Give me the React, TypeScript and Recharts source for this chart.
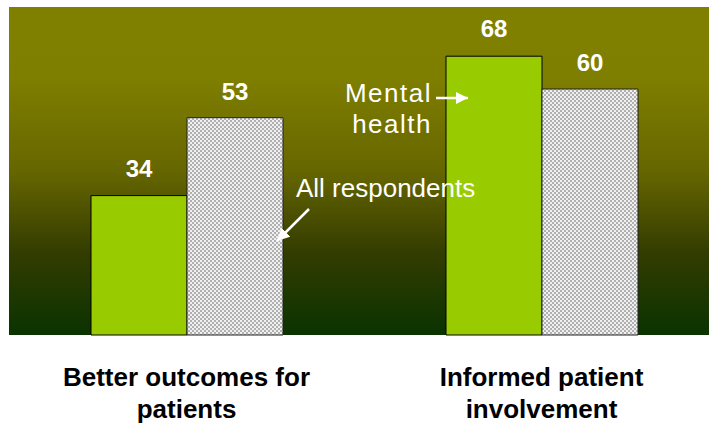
import React from "react";
import { BarChart, Bar, XAxis, YAxis, CartesianGrid, LabelList } from "recharts";

const categories = ["Better outcomes for patients", "Informed patient involvement"];
const tickLines = [
  ["Better outcomes for", "patients"],
  ["Informed patient", "involvement"],
];
const mentalHealth = [34, 68];
const allRespondents = [53, 60];

const data = categories.map((name, i) => ({
  name,
  mental: mentalHealth[i],
  all: allRespondents[i],
}));

const FONT = "'Liberation Sans', Arial, sans-serif";

const CategoryTick = (props: any) => {
  const { x, y, payload } = props;
  const idx = categories.indexOf(payload.value);
  const lines = idx >= 0 ? tickLines[idx] : [payload.value];
  return (
    <g>
      {lines.map((line, i) => (
        <text
          key={i}
          x={x}
          y={y + 43 + i * 32}
          textAnchor="middle"
          fontFamily={FONT}
          fontWeight="bold"
          fontSize={26}
          fill="#000"
        >
          {line}
        </text>
      ))}
    </g>
  );
};

const App = () => {
  return (
    <div
      style={{
        position: "absolute",
        left: 0,
        top: 0,
        width: 709,
        height: 424,
        overflow: "hidden",
        background: "#fff",
      }}
    >
      <svg width={0} height={0} style={{ position: "absolute" }}>
        <defs>
          <linearGradient id="bgGrad" x1="0" y1="0" x2="0" y2="1">
            <stop offset="0" stopColor="#808000" />
            <stop offset="0.22" stopColor="#7e7e00" />
            <stop offset="0.5" stopColor="#666600" />
            <stop offset="0.75" stopColor="#333c00" />
            <stop offset="1" stopColor="#0a3300" />
          </linearGradient>
          <pattern id="checker" patternUnits="userSpaceOnUse" width={4} height={4}>
            <rect x={0} y={0} width={4} height={4} fill="#b0b0b0" />
            <rect x={0} y={0} width={2} height={2} fill="#f0f0f0" />
            <rect x={2} y={2} width={2} height={2} fill="#f0f0f0" />
          </pattern>
          <marker
            id="arrowHead"
            viewBox="0 0 10 10"
            refX={10}
            refY={5}
            markerWidth={5}
            markerHeight={5}
            markerUnits="strokeWidth"
            orient="auto"
          >
            <path d="M0,0 L10,5 L0,10 z" fill="#fff" />
          </marker>
        </defs>
      </svg>
      <BarChart
        width={720}
        height={424}
        data={data}
        margin={{ top: 7, right: 1, left: 9, bottom: 0 }}
        barSize={96}
        barGap={0}
      >
        <CartesianGrid horizontal={false} vertical={false} fill="url(#bgGrad)" stroke="none" />
        <XAxis
          dataKey="name"
          axisLine={false}
          tickLine={false}
          interval={0}
          height={89}
          tick={<CategoryTick />}
        />
        <YAxis hide domain={[0, 80]} />
        <Bar dataKey="mental" fill="#99cc00" stroke="#000" strokeWidth={1} isAnimationActive={false}>
          <LabelList
            dataKey="mental"
            position="top"
            offset={19}
            fill="#fff"
            fontFamily={FONT}
            fontWeight="bold"
            fontSize={24}
          />
        </Bar>
        <Bar dataKey="all" fill="url(#checker)" stroke="#222" strokeWidth={1} isAnimationActive={false}>
          <LabelList
            dataKey="all"
            position="top"
            offset={18}
            fill="#fff"
            fontFamily={FONT}
            fontWeight="bold"
            fontSize={24}
          />
        </Bar>
      </BarChart>
      <svg
        width={709}
        height={424}
        style={{ position: "absolute", left: 0, top: 0, pointerEvents: "none" }}
      >
        <g fontFamily={FONT} fontSize={26} fill="#fff">
          <text x={432} y={102} textAnchor="end" letterSpacing={1.5}>
            Mental
          </text>
          <text x={432} y={133} textAnchor="end" letterSpacing={1.5}>
            health
          </text>
          <text x={296} y={197}>All respondents</text>
        </g>
        <line x1={436} y1={98} x2={468} y2={98} stroke="#fff" strokeWidth={2.5} markerEnd="url(#arrowHead)" />
        <line x1={309} y1={209} x2={277} y2={241} stroke="#fff" strokeWidth={2.5} markerEnd="url(#arrowHead)" />
      </svg>
    </div>
  );
};

export default App;
